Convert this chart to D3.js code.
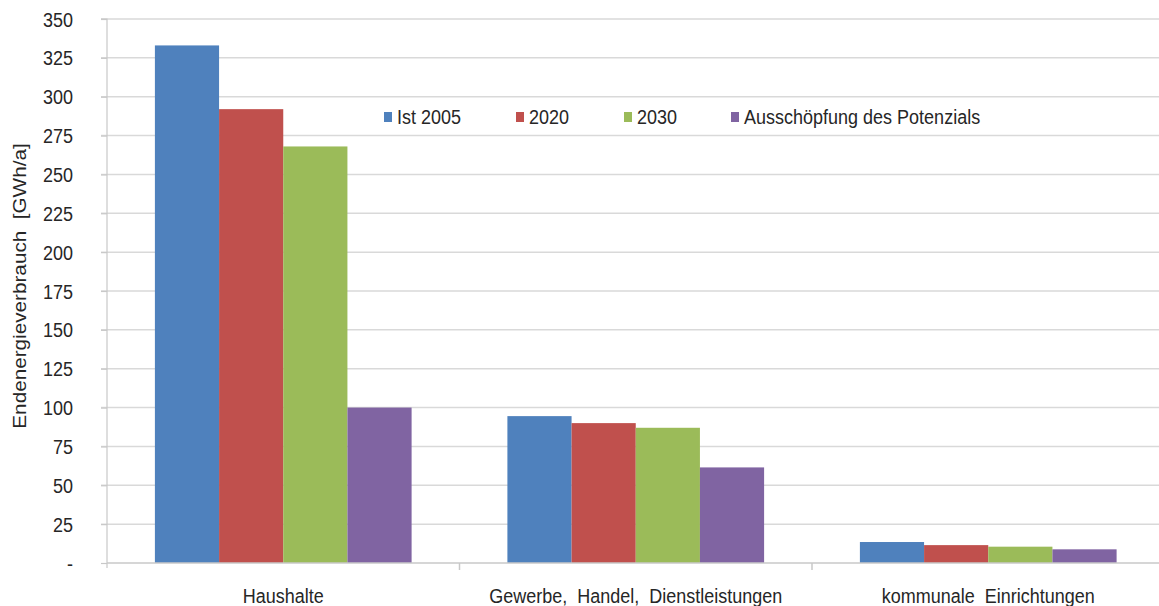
<!DOCTYPE html>
<html>
<head>
<meta charset="utf-8">
<script src="https://cdn.jsdelivr.net/npm/d3@7"></script>
<style>
  html, body { margin: 0; padding: 0; background: #ffffff; }
  svg { display: block; font-family: "Liberation Sans", Arial, sans-serif; }
</style>
</head>
<body>
<svg id="chart" width="1159" height="606"></svg>
<script>
// Endenergieverbrauch nach Sektor [GWh/a]
const categories = ["Haushalte", "Gewerbe,  Handel,  Dienstleistungen", "kommunale  Einrichtungen"];
const seriesNames = ["Ist 2005", "2020", "2030", "Ausschöpfung des Potenzials"];
const ist2005 = [333, 94.5, 13.5];
const y2020 = [292, 90, 11.5];
const y2030 = [268, 87, 10.5];
const potenzial = [100, 61.5, 8.8];
const seriesColors = ["#4f81bd", "#c0504d", "#9bbb59", "#8064a2"];
const yTicks = [0, 25, 50, 75, 100, 125, 150, 175, 200, 225, 250, 275, 300, 325, 350];

const seriesValues = [ist2005, y2020, y2030, potenzial];
const svg = d3.select("#chart");

const plotLeft = 107, plotTop = 19, plotBottom = 563, step = 352.5;
const plotRight = plotLeft + categories.length * step;
const stretch = 1.12; // text is drawn slightly taller than wide

const y = d3.scaleLinear().domain([0, 350]).range([plotBottom, plotTop]);
const x0 = d3.scaleBand().domain(categories).range([plotLeft, plotRight]).padding(0);
const x1 = d3.scaleBand().domain(seriesNames).range([47.9, step - 47.9]).padding(0);

// horizontal gridlines
svg.append("g").selectAll("line").data(yTicks.filter(d => d > 0)).join("line")
  .attr("x1", plotLeft - 6).attr("x2", 1159)
  .attr("y1", d => y(d)).attr("y2", d => y(d))
  .attr("stroke", "#d9d9d9").attr("stroke-width", 1.5);

// bars
const groups = svg.append("g").selectAll("g").data(categories).join("g")
  .attr("transform", d => `translate(${x0(d)},0)`);
groups.selectAll("rect")
  .data((c, i) => seriesNames.map((s, k) => ({ s, v: seriesValues[k][i], color: seriesColors[k] })))
  .join("rect")
  .attr("x", d => x1(d.s))
  .attr("width", x1.bandwidth())
  .attr("y", d => y(d.v))
  .attr("height", d => y(0) - y(d.v))
  .attr("fill", d => d.color);

// y axis
const fmt = d => d === 0 ? "-" : d3.format("d")(d);
const yAxis = d3.axisLeft(y).tickValues(yTicks).tickSize(6).tickFormat(fmt);
const ya = svg.append("g").attr("transform", `translate(${plotLeft},0)`).call(yAxis);
ya.select(".domain").attr("d", `M-6,${plotTop}H0V${plotBottom + 5}`).attr("stroke", "#c8c8c8").attr("stroke-width", 1.2);
ya.selectAll(".tick line").attr("stroke", "#c8c8c8").attr("stroke-width", 1.2);
ya.selectAll(".tick text").remove();
ya.selectAll(".tick").append("g")
  .attr("transform", `translate(-34,0) scale(1,${stretch})`)
  .append("text")
  .attr("text-anchor", "end").attr("dy", "0.35em")
  .attr("font-size", 18).attr("fill", "#262626")
  .text(fmt);

// x axis baseline with category separators
svg.append("line").attr("x1", plotLeft).attr("x2", 1159).attr("y1", plotBottom).attr("y2", plotBottom)
  .attr("stroke", "#c8c8c8").attr("stroke-width", 1.5);
svg.append("g").selectAll("line").data(categories.slice(1)).join("line")
  .attr("x1", d => x0(d)).attr("x2", d => x0(d))
  .attr("y1", plotBottom).attr("y2", plotBottom + 7)
  .attr("stroke", "#c8c8c8").attr("stroke-width", 1.5);

// category labels
svg.append("g").selectAll("g").data(categories).join("g")
  .attr("transform", d => `translate(${x0(d) + step / 2},596) scale(1,${stretch})`)
  .append("text")
  .attr("text-anchor", "middle").attr("dy", "0.35em")
  .attr("font-size", 18).attr("fill", "#262626")
  .style("white-space", "pre")
  .text(d => d);

// y axis title
svg.append("g").attr("transform", `translate(20,286) rotate(-90) scale(${stretch},1)`)
  .append("text")
  .attr("text-anchor", "middle").attr("dy", "0.35em")
  .attr("font-size", 18.5).attr("fill", "#262626")
  .style("white-space", "pre")
  .text("Endenergieverbrauch  [GWh/a]");

// legend
const legendX = [384, 516, 624, 731];
const legend = svg.append("g").selectAll("g").data(seriesNames).join("g")
  .attr("transform", (d, i) => `translate(${legendX[i]},117)`);
legend.append("rect").attr("x", 0).attr("y", -5).attr("width", 8).attr("height", 10)
  .attr("fill", (d, i) => seriesColors[i]);
legend.append("g").attr("transform", `translate(13,0) scale(1,${stretch})`)
  .append("text").attr("dy", "0.35em")
  .attr("font-size", 18).attr("fill", "#262626")
  .text(d => d);
</script>
</body>
</html>
